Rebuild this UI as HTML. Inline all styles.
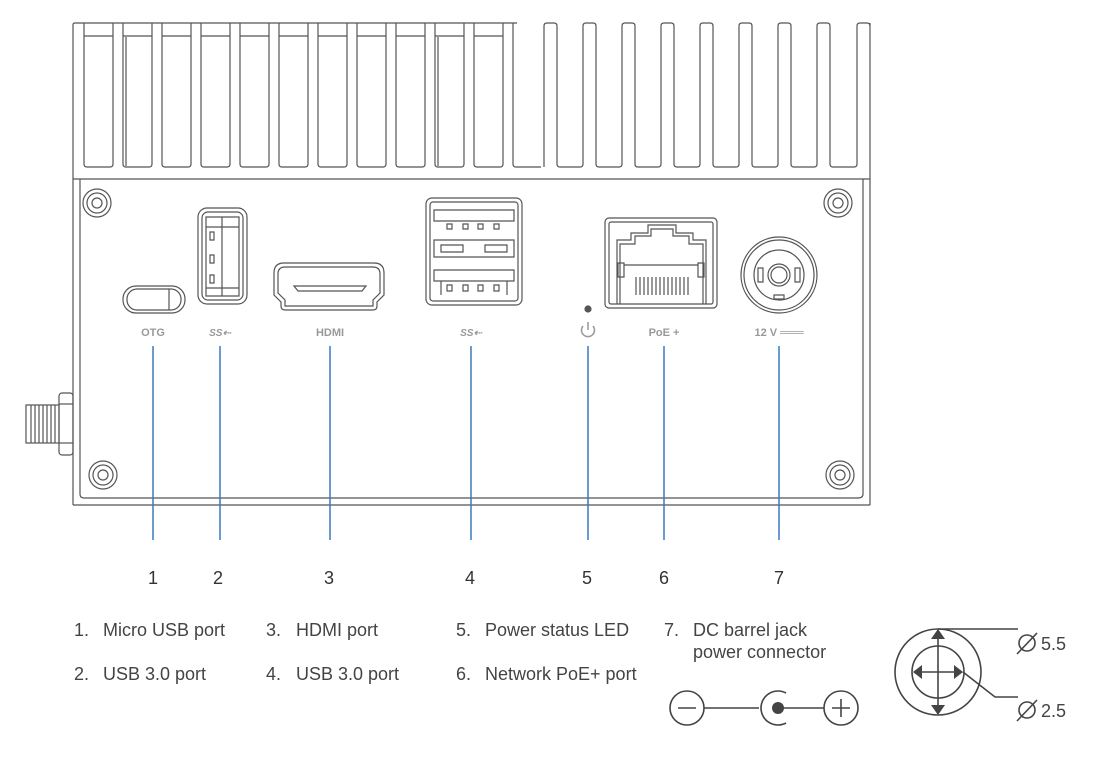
<!DOCTYPE html>
<html><head><meta charset="utf-8"><style>
html,body{margin:0;padding:0;background:#fff;}
svg{display:block;}
text{font-family:"Liberation Sans",sans-serif;}
</style></head><body>
<svg width="1109" height="759" viewBox="0 0 1109 759" xmlns="http://www.w3.org/2000/svg">
<g fill="none" stroke="#555" stroke-width="1.2">
  <path d="M73,505 L73,25 Q73,23 75,23 L517,23"/>
  <line x1="73" y1="179" x2="870" y2="179"/>
  <line x1="870" y1="23" x2="870" y2="505"/>
  <line x1="73" y1="505" x2="870" y2="505"/>
  <path d="M80,179 L80,494 Q80,498 84,498 L858,498 Q863,498 863,494 L863,179"/>
  <g>
    <path d="M84,23 V164 Q84,167 87,167 H110 Q113,167 113,164 V23 M84,36 H113"/>
    <path d="M123,23 V164 Q123,167 126,167 H149 Q152,167 152,164 V23 M123,36 H152 M126,37 V166"/>
    <path d="M162,23 V164 Q162,167 165,167 H188 Q191,167 191,164 V23 M162,36 H191"/>
    <path d="M201,23 V164 Q201,167 204,167 H227 Q230,167 230,164 V23 M201,36 H230"/>
    <path d="M240,23 V164 Q240,167 243,167 H266 Q269,167 269,164 V23 M240,36 H269"/>
    <path d="M279,23 V164 Q279,167 282,167 H305 Q308,167 308,164 V23 M279,36 H308"/>
    <path d="M318,23 V164 Q318,167 321,167 H344 Q347,167 347,164 V23 M318,36 H347"/>
    <path d="M357,23 V164 Q357,167 360,167 H383 Q386,167 386,164 V23 M357,36 H386"/>
    <path d="M396,23 V164 Q396,167 399,167 H422 Q425,167 425,164 V23 M396,36 H425"/>
    <path d="M435,23 V164 Q435,167 438,167 H461 Q464,167 464,164 V23 M435,36 H464 M438,37 V166"/>
    <path d="M474,23 V164 Q474,167 477,167 H500 Q503,167 503,164 V23 M474,36 H503"/>
    <path d="M513,23 V164 Q513,167 516,167 H541"/>
  </g>
  <g>
    <path d="M544,167 V26 Q544,23 547,23 H554 Q557,23 557,26 V164 Q557,167 560,167 H580 Q583,167 583,164"/>
    <path d="M583,164 V26 Q583,23 586,23 H593 Q596,23 596,26 V164 Q596,167 599,167 H619 Q622,167 622,164"/>
    <path d="M622,164 V26 Q622,23 625,23 H632 Q635,23 635,26 V164 Q635,167 638,167 H658 Q661,167 661,164"/>
    <path d="M661,164 V26 Q661,23 664,23 H671 Q674,23 674,26 V164 Q674,167 677,167 H697 Q700,167 700,164"/>
    <path d="M700,164 V26 Q700,23 703,23 H710 Q713,23 713,26 V164 Q713,167 716,167 H736 Q739,167 739,164"/>
    <path d="M739,164 V26 Q739,23 742,23 H749 Q752,23 752,26 V164 Q752,167 755,167 H775 Q778,167 778,164"/>
    <path d="M778,164 V26 Q778,23 781,23 H788 Q791,23 791,26 V164 Q791,167 794,167 H814 Q817,167 817,164"/>
    <path d="M817,164 V26 Q817,23 820,23 H827 Q830,23 830,26 V164 Q830,167 833,167 H854 Q857,167 857,164"/>
    <path d="M857,164 V26 Q857,23 860,23 H867 Q870,23 870,26"/>
  </g>
  <g>
    <circle cx="97" cy="203" r="14"/><circle cx="97" cy="203" r="10"/><circle cx="97" cy="203" r="5"/>
    <circle cx="838" cy="203" r="14"/><circle cx="838" cy="203" r="10"/><circle cx="838" cy="203" r="5"/>
    <circle cx="103" cy="475" r="14"/><circle cx="103" cy="475" r="10"/><circle cx="103" cy="475" r="5"/>
    <circle cx="840" cy="475" r="14"/><circle cx="840" cy="475" r="10"/><circle cx="840" cy="475" r="5"/>
  </g>
  <g>
    <rect x="59" y="393" width="14" height="62" rx="3"/>
    <line x1="59" y1="404" x2="73" y2="404"/><line x1="59" y1="443" x2="73" y2="443"/>
    <rect x="26" y="405" width="33" height="38"/>
    <path d="M31,405 V443 M35,405 V443 M39,405 V443 M43,405 V443 M47,405 V443 M51,405 V443 M55,405 V443"/>
  </g>
  <rect x="123" y="286" width="62" height="27" rx="13"/>
  <rect x="127" y="289" width="54" height="21" rx="10"/>
  <line x1="169" y1="289" x2="169" y2="310"/>
  <rect x="198" y="208" width="49" height="96" rx="9"/>
  <rect x="202" y="212" width="41" height="88" rx="6"/>
  <path d="M206,217 H239 V296 H206 Z M222,217 V296 M206,227 H239 M206,288 H239"/>
  <path d="M210,232 h4 v8 h-4 z M210,255 h4 v8 h-4 z M210,275 h4 v8 h-4 z"/>
  <path d="M274,273 Q274,263 284,263 H374 Q384,263 384,273 V295 L377,302 V306 Q377,310 373,310 H285 Q281,310 281,306 V302 L274,295 Z"/>
  <path d="M278,274 Q278,267 285,267 H373 Q380,267 380,274 V293 L373,300 V306 H285 V300 L278,293 Z"/>
  <path d="M294,286 H366 L362,291 H298 Z"/>
  <rect x="426" y="198" width="96" height="107" rx="6"/>
  <rect x="430" y="202" width="88" height="99" rx="3"/>
  <path d="M434,210 H514 V221 H434 Z M434,240 H514 V257 H434 Z M434,270 H514 V281 H434 Z"/>
  <path d="M447,224 h5 v5 h-5 z M463,224 h5 v5 h-5 z M478,224 h5 v5 h-5 z M494,224 h5 v5 h-5 z"/>
  <path d="M441,245 h22 v7 h-22 z M485,245 h22 v7 h-22 z"/>
  <path d="M441,281 V295 M507,281 V295 M447,285 h5 v6 h-5 z M463,285 h5 v6 h-5 z M478,285 h5 v6 h-5 z M494,285 h5 v6 h-5 z"/>
  <rect x="605" y="218" width="112" height="90" rx="4"/>
  <rect x="609" y="222" width="104" height="82" rx="2"/>
  <path d="M617,304 V240 H631 V233 H648 V225 H676 V233 H693 V240 H706 V304"/>
  <path d="M620,304 V244 H635 V236 H651 V229 H673 V236 H689 V244 H703 V304"/>
  <path d="M618,263 h6 v14 h-6 z M698,263 h6 v14 h-6 z M624,265 H698"/>
  <path d="M636,277 V295 M640,277 V295 M644,277 V295 M648,277 V295 M652,277 V295 M656,277 V295 M660,277 V295 M664,277 V295 M668,277 V295 M672,277 V295 M676,277 V295 M680,277 V295 M684,277 V295 M688,277 V295"/>
  <circle cx="779" cy="275" r="38"/><circle cx="779" cy="275" r="35"/>
  <circle cx="779" cy="275" r="25"/><circle cx="779" cy="275" r="11"/><circle cx="779" cy="275" r="8"/>
  <path d="M758,268 h5 v14 h-5 z M795,268 h5 v14 h-5 z M774,295 h10 v4 h-10 z"/>
  <circle cx="588" cy="309" r="3" fill="#555"/>
</g>
<g fill="#999" font-size="11" font-weight="bold" text-anchor="middle">
  <text x="153" y="336">OTG</text>
  <text x="220" y="336" font-style="italic" font-size="10">SS⇠</text>
  <text x="330" y="336">HDMI</text>
  <text x="471" y="336" font-style="italic" font-size="10">SS⇠</text>
  <text x="664" y="336">PoE +</text>
  <text x="779" y="336">12 V ═══</text>
</g>
<g fill="none" stroke="#999" stroke-width="1.5">
  <path d="M583,326 A6.5,6.5 0 1 0 593,326"/><line x1="588" y1="322" x2="588" y2="330"/>
</g>
<g stroke="#3a7bbf" stroke-width="1.5">
  <line x1="153" y1="346" x2="153" y2="540"/>
  <line x1="220" y1="346" x2="220" y2="540"/>
  <line x1="330" y1="346" x2="330" y2="540"/>
  <line x1="471" y1="346" x2="471" y2="540"/>
  <line x1="588" y1="346" x2="588" y2="540"/>
  <line x1="664" y1="346" x2="664" y2="540"/>
  <line x1="779" y1="346" x2="779" y2="540"/>
</g>
<g fill="#333" font-size="18" text-anchor="middle">
  <text x="153" y="584">1</text><text x="218" y="584">2</text><text x="329" y="584">3</text>
  <text x="470" y="584">4</text><text x="587" y="584">5</text><text x="664" y="584">6</text><text x="779" y="584">7</text>
</g>
<g fill="#444" font-size="18">
  <text x="74" y="636">1.</text><text x="103" y="636">Micro USB port</text>
  <text x="74" y="680">2.</text><text x="103" y="680">USB 3.0 port</text>
  <text x="266" y="636">3.</text><text x="296" y="636">HDMI port</text>
  <text x="266" y="680">4.</text><text x="296" y="680">USB 3.0 port</text>
  <text x="456" y="636">5.</text><text x="485" y="636">Power status LED</text>
  <text x="456" y="680">6.</text><text x="485" y="680">Network PoE+ port</text>
  <text x="664" y="636">7.</text><text x="693" y="636">DC barrel jack</text>
  <text x="693" y="658">power connector</text>
  <text x="1041" y="650">5.5</text>
  <text x="1041" y="717">2.5</text>
</g>
<g fill="none" stroke="#444" stroke-width="1.6">
  <circle cx="687" cy="708" r="17"/><line x1="678" y1="708" x2="696" y2="708"/>
  <line x1="704" y1="708" x2="759" y2="708"/>
  <path d="M786,693 A17,17 0 1 0 786,723"/>
  <line x1="777" y1="708" x2="824" y2="708"/>
  <circle cx="841" cy="708" r="17"/><line x1="832" y1="708" x2="850" y2="708"/><line x1="841" y1="699" x2="841" y2="717"/>
  <circle cx="938" cy="672" r="43"/><circle cx="938" cy="672" r="26"/>
  <line x1="938" y1="636" x2="938" y2="708"/><line x1="917" y1="672" x2="959" y2="672"/>
  <line x1="938" y1="629" x2="1018" y2="629"/>
  <path d="M963,672 L995,697 L1018,697"/>
  <circle cx="1027" cy="643" r="8"/><line x1="1017" y1="654" x2="1037" y2="633"/>
  <circle cx="1027" cy="710" r="8"/><line x1="1017" y1="721" x2="1037" y2="700"/>
</g>
<g fill="#444">
  <circle cx="778" cy="708" r="6"/>
  <polygon points="938,629 931,639 945,639"/><polygon points="938,715 931,705 945,705"/>
  <polygon points="913,672 922,665 922,679"/><polygon points="963,672 954,665 954,679"/>
</g>
</svg>
</body></html>
